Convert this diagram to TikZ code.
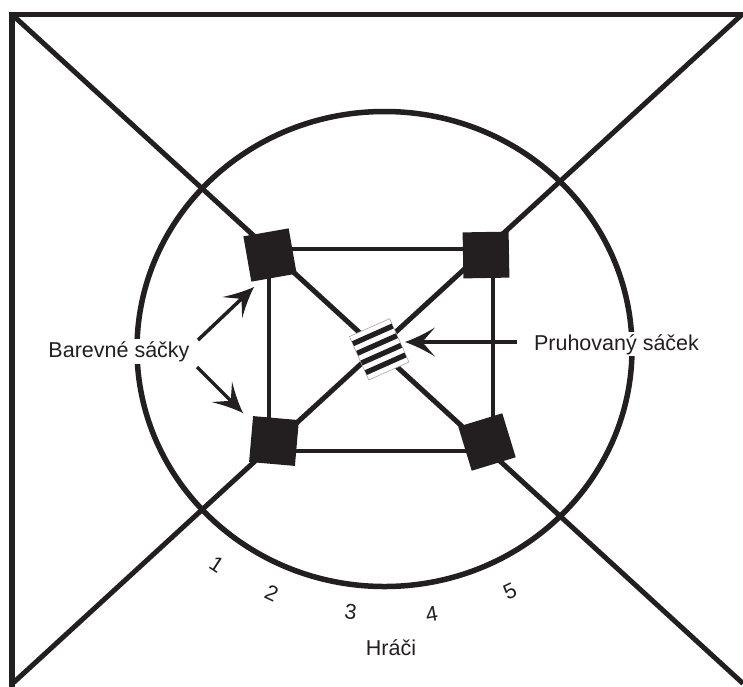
\documentclass[tikz,border=0pt]{standalone}
\usepackage{fontspec}
\setmainfont{Liberation Sans}
\usetikzlibrary{arrows.meta,calc}
\definecolor{ink}{RGB}{35,31,32}
\pgfdeclarearrow{
  name=Spike,
  parameters={},
  setup code={
    \pgfarrowssettipend{0pt}
    \pgfarrowssetlineend{-15pt}
    \pgfarrowssetbackend{-30pt}
    \pgfarrowsupperhullpoint{0pt}{0pt}
    \pgfarrowsupperhullpoint{-30pt}{14.5pt}
  },
  drawing code={
    \pgfpathmoveto{\pgfpointorigin}
    \pgfpathcurveto{\pgfpoint{-10pt}{3.5pt}}{\pgfpoint{-20pt}{8.5pt}}{\pgfpoint{-30pt}{14.5pt}}
    \pgfpathlineto{\pgfpoint{-19pt}{2pt}}
    \pgfpathlineto{\pgfpoint{-19pt}{-2pt}}
    \pgfpathlineto{\pgfpoint{-30pt}{-14.5pt}}
    \pgfpathcurveto{\pgfpoint{-20pt}{-8.5pt}}{\pgfpoint{-10pt}{-3.5pt}}{\pgfpointorigin}
    \pgfpathclose
    \pgfusepathqfill
  }
}
\begin{document}
\begin{tikzpicture}[x=1pt,y=-1pt, line join=miter,
  frame/.style={draw=ink, line width=5.5pt},
  diag/.style={draw=ink, line width=5pt},
  ring/.style={draw=ink, line width=5.5pt},
  side/.style={draw=ink, line width=4.5pt},
  bag/.style={fill=ink, draw=none, minimum size=46pt, inner sep=0pt},
  sack/.style={draw=gray!70, line width=0.6pt, fill=white, minimum width=44pt, minimum height=47.5pt, inner sep=0pt},
  lbl/.style={font=\fontsize{21.5}{24}\selectfont, fill=white, inner sep=2pt, text=ink},
  num/.style={font=\fontsize{21.5}{24}\selectfont, inner sep=0pt, text=ink},
  arr/.style={color=ink, line width=3.5pt, -{Spike}}
]
\useasboundingbox (0,0) rectangle (743,686);
% frame and diagonals
\coordinate (fTR) at (745,14.5);
\coordinate (fTL) at (12,14.5);
\coordinate (fBL) at (12,688);
\coordinate (dTL) at (12,14.5);
\coordinate (dBR) at (743,683.5);
\coordinate (dTR) at (742,14.5);
\coordinate (dBL) at (12,684);
\draw[frame] (fTR) -- (fTL) -- (fBL);
\draw[diag] (dTL) -- (dBR);
\draw[diag] (dTR) -- (dBL);
% circle
\draw[ring] (384.5,349) ellipse [x radius=247.5pt, y radius=237.5pt];
% inner rectangle
\coordinate (r1) at (269,249);
\coordinate (r2) at (493,451);
\draw[side] (r1) rectangle (r2);
% coloured bags
\node[bag, rotate=10] (sqTL) at (270,255) {};
\node[bag, rotate=1] (sqTR) at (486,255) {};
\node[bag, rotate=-5] (sqBL) at (274,441) {};
\node[bag, rotate=17] (sqBR) at (487,442) {};
% striped bag
\node[sack, rotate=24] (sack) at (379.2,349.3) {};
\begin{scope}[shift={(sack.center)}, rotate=24]
  \foreach \k in {1,3,5,7}
    \fill[ink] (-21.7,-23.75+\k*5.278) rectangle (21.7,-23.75+\k*5.278+5.278);
\end{scope}
% labels
\node[lbl, anchor=base] (barevne) at (119,357.3) {Barevné sáčky};
\node[lbl, anchor=base] (pruh) at (616.5,350) {Pruhovaný sáček};
\node[lbl, anchor=base] (hraci) at (391,655) {Hráči};
\node[num, rotate=-33] (n1) at (216.7,565) {1};
\node[num, rotate=-25] (n2) at (271.7,593.3) {2};
\node[num, rotate=-7] (n3) at (350.7,611.7) {3};
\node[num, rotate=10] (n4) at (431.7,614) {4};
\node[num, rotate=25] (n5) at (510,591.7) {5};
% arrows
\coordinate (a1s) at (198,340);
\coordinate (a1t) at (254,287);
\coordinate (a2s) at (197,367);
\coordinate (a2t) at (243,413);
\coordinate (a3s) at (517,342);
\coordinate (a3t) at (405,342);
\draw[arr] (a1s) -- (a1t);
\draw[arr] (a2s) -- (a2t);
\draw[arr] (a3s) -- (a3t);
\end{tikzpicture}
\end{document}
